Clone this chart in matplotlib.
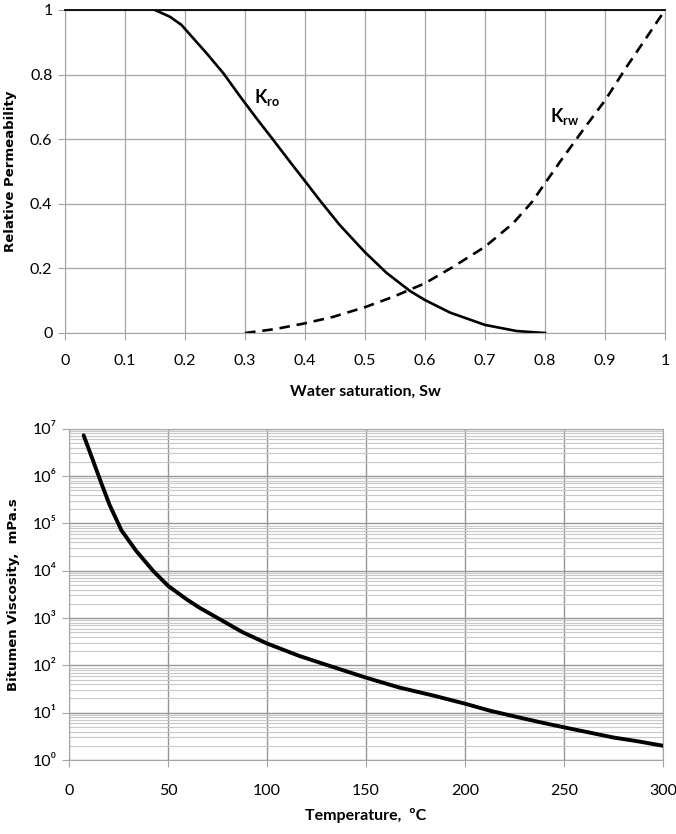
import numpy as np
import matplotlib
matplotlib.use("Agg")
import matplotlib.pyplot as plt
from matplotlib.ticker import FixedLocator, LogLocator, NullFormatter

narrow = ['Lato', 'DejaVu Sans']
wide = ['DejaVu Sans']

# relative permeability curves
sw_oil = [0.15, 0.175, 0.194, 0.214, 0.236, 0.264, 0.292, 0.319, 0.347, 0.375,
          0.403, 0.425, 0.458, 0.5, 0.536, 0.575, 0.6, 0.642, 0.7, 0.753, 0.8]
kro = [1.0, 0.979, 0.954, 0.912, 0.866, 0.804, 0.732, 0.665, 0.598, 0.53,
       0.463, 0.41, 0.334, 0.25, 0.186, 0.13, 0.102, 0.063, 0.025, 0.006, 0.0]
sw_wat = [0.3, 0.35, 0.4, 0.447, 0.5, 0.547, 0.6, 0.647, 0.7, 0.747, 0.778,
          0.825, 0.864, 0.9, 0.936, 0.97, 1.0]
krw = [0.0, 0.012, 0.03, 0.05, 0.08, 0.112, 0.154, 0.205, 0.267, 0.34, 0.405,
       0.53, 0.63, 0.72, 0.824, 0.917, 1.0]

# bitumen viscosity vs temperature
temp = [7.4, 12.1, 16.4, 20.6, 26.5, 34, 42.4, 50, 59.3, 65.8, 75.9, 87.7, 100,
        116.3, 133.1, 150, 166.8, 184, 200, 212.6, 225.2, 237.8, 250, 262.9,
        274.7, 288.1, 300]
visc = [7.24e6, 2.14e6, 6.9e5, 2.4e5, 7.1e4, 2.6e4, 1.0e4, 4.8e3, 2.5e3, 1.66e3,
        955, 500, 290, 158, 93, 55, 34, 23, 15.5, 11, 8.3, 6.3, 4.9, 3.8,
        3.0, 2.45, 2.0]

x_ticks_top = [0, 0.1, 0.2, 0.3, 0.4, 0.5, 0.6, 0.7, 0.8, 0.9, 1]
x_labels_top = ['0', '0.1', '0.2', '0.3', '0.4', '0.5', '0.6', '0.7', '0.8', '0.9', '1']
y_ticks_top = [0, 0.2, 0.4, 0.6, 0.8, 1]
y_labels_top = ['0', '0.2', '0.4', '0.6', '0.8', '1']
t_ticks = [0, 50, 100, 150, 200, 250, 300]
v_ticks = [1, 10, 100, 1e3, 1e4, 1e5, 1e6, 1e7]
v_labels = ['10⁰', '10¹', '10²', '10³', '10⁴', '10⁵', '10⁶', '10⁷']

grid_c = '#a6a6a6'

fig = plt.figure(figsize=(6.76, 8.34), dpi=100)

# ---- top chart
ax1 = fig.add_axes([65/676, 1 - 333/834, 600/676, 323/834])
ax1.plot(sw_oil, kro, color='black', lw=1.9, solid_joinstyle='round')
ax1.plot(sw_wat, krw, color='black', lw=1.9, dashes=(4, 2.6))
ax1.set_xlim(0, 1)
ax1.set_ylim(0, 1)
ax1.set_xticks(x_ticks_top)
ax1.set_xticklabels(x_labels_top, family=narrow, fontsize=11.5)
ax1.set_yticks(y_ticks_top)
ax1.set_yticklabels(y_labels_top, family=narrow, fontsize=11.5)
ax1.grid(True, color=grid_c, lw=0.9)
ax1.set_axisbelow(True)
ax1.tick_params(axis='x', direction='out', length=5, color=grid_c, pad=10)
ax1.tick_params(axis='y', direction='out', length=5, color=grid_c, pad=4)
for s in ['left', 'right', 'bottom']:
    ax1.spines[s].set_color(grid_c)
ax1.spines['top'].set_color('black')
ax1.spines['top'].set_linewidth(1.3)
ax1.set_xlabel('Water saturation, Sw', family=narrow, fontsize=11.5,
               fontweight='bold')
ax1.xaxis.set_label_coords(0.5, -0.16)
ax1.set_ylabel('Relative Permeability', family=wide, fontsize=9.5,
               fontweight='bold')
ax1.yaxis.set_label_coords(-0.08, 0.5)
ax1.text(0.315, 0.73, r'K$_{\mathregular{ro}}$', family=narrow, fontsize=13,
         fontweight='bold', ha='left', va='center')
ax1.text(0.808, 0.67, r'K$_{\mathregular{rw}}$', family=narrow, fontsize=13,
         fontweight='bold', ha='left', va='center')

# ---- bottom chart
ax2 = fig.add_axes([69/676, 1 - 760/834, 594/676, 331.3/834])
ax2.plot(temp, visc, color='black', lw=2.8, solid_joinstyle='round',
         solid_capstyle='round')
ax2.set_yscale('log')
ax2.set_xlim(0, 300)
ax2.set_ylim(1, 1e7)
ax2.set_xticks(t_ticks)
ax2.set_xticklabels([str(t) for t in t_ticks], family=narrow, fontsize=11.5)
ax2.yaxis.set_major_locator(FixedLocator(v_ticks))
ax2.set_yticklabels(v_labels, family=narrow, fontsize=11.5)
ax2.yaxis.set_minor_locator(LogLocator(base=10, subs=np.arange(2, 10), numticks=20))
ax2.yaxis.set_minor_formatter(NullFormatter())
ax2.grid(True, which='major', color='#969696', lw=1.0)
ax2.grid(True, which='minor', axis='y', color='#c8c8c8', lw=0.8)
ax2.set_axisbelow(True)
ax2.tick_params(axis='x', direction='out', length=5, color=grid_c, pad=12)
ax2.tick_params(axis='y', which='major', direction='out', length=5, color=grid_c, pad=4)
ax2.tick_params(axis='y', which='minor', length=0)
for s in ax2.spines.values():
    s.set_color(grid_c)
ax2.set_xlabel('Temperature,  \u00baC', family=narrow, fontsize=11.5,
               fontweight='bold')
ax2.xaxis.set_label_coords(0.5, -0.145)
ax2.set_ylabel('Bitumen Viscosity,  mPa.s', family=wide, fontsize=9.5,
               fontweight='bold')
ax2.yaxis.set_label_coords(-0.082, 0.5)

fig.savefig('out.png', dpi=100)
